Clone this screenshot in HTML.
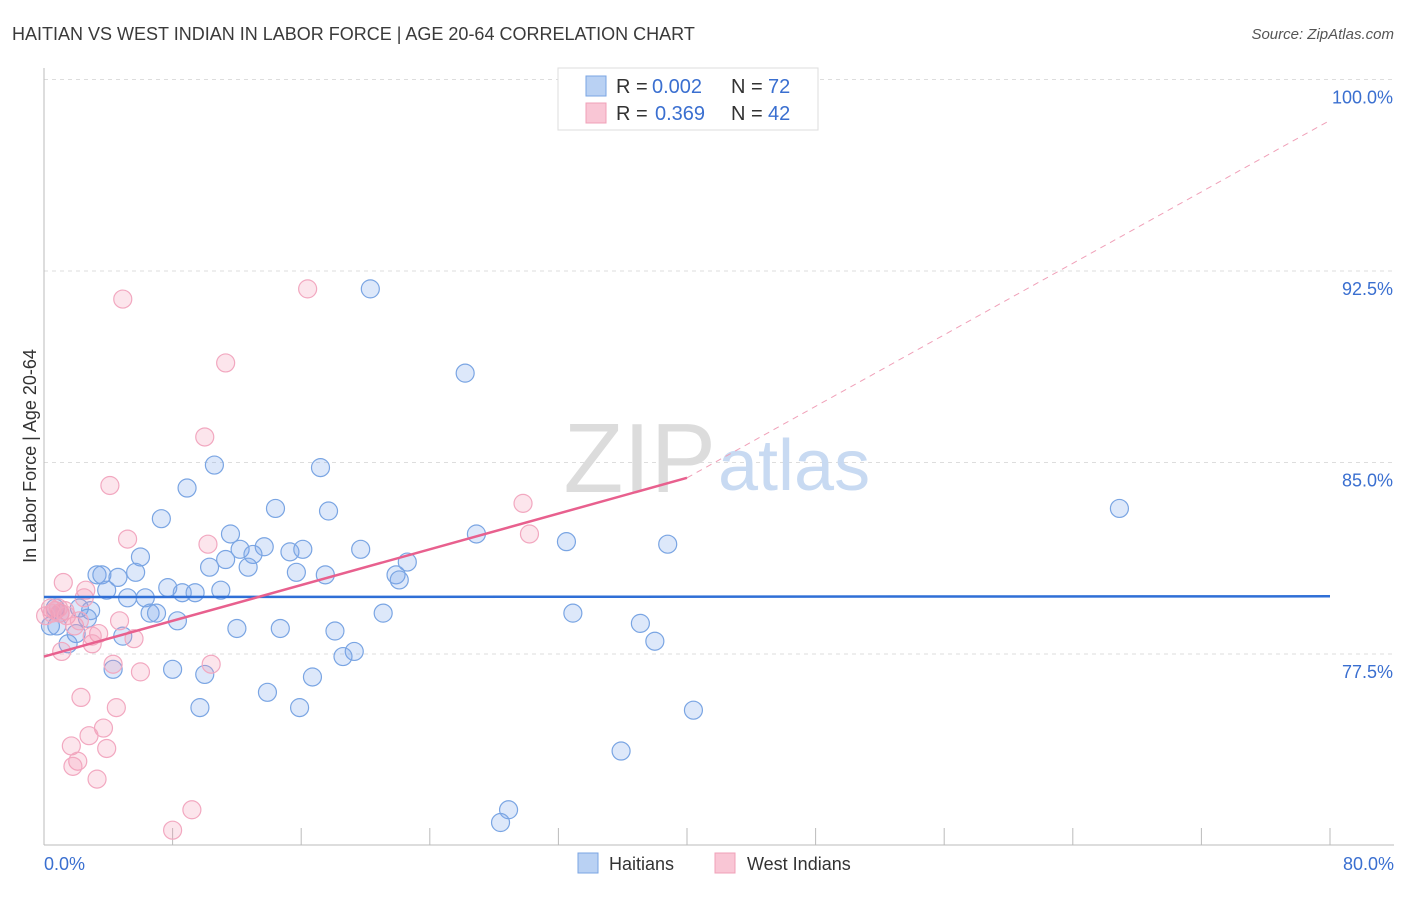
<!DOCTYPE html>
<html><head><meta charset="utf-8"><style>
body{margin:0;background:#fff;font-family:"Liberation Sans",sans-serif;}
svg text{font-family:"Liberation Sans",sans-serif;}
</style></head><body>
<svg id="chart" width="1406" height="892">
<text x="12" y="40" font-size="18" fill="#3a3a3a">HAITIAN VS WEST INDIAN IN LABOR FORCE | AGE 20-64 CORRELATION CHART</text>
<text x="1394" y="39" font-size="15" fill="#555" font-style="italic" text-anchor="end">Source: ZipAtlas.com</text>
<g id="grid"></g>
<text x="716" y="492" font-size="98" fill="#dcdcdc" font-family="Liberation Serif" text-anchor="end">ZIP</text>
<text x="718" y="490" font-size="72" fill="#c8daf2">atlas</text>
<g id="marks"></g>
<text x="36" y="456" font-size="18" fill="#333" transform="rotate(-90 36 456)" text-anchor="middle">In Labor Force | Age 20-64</text>
<text x="44" y="870" font-size="18" fill="#3a6fd0">0.0%</text>
<text x="1394" y="870" font-size="18" fill="#3a6fd0" text-anchor="end">80.0%</text>
<g>
<rect x="558" y="68" width="260" height="62" fill="#fff" stroke="#ddd"/>
<rect x="586" y="76" width="20" height="20" fill="#b9d1f3" stroke="#7aa5e3"/>
<rect x="586" y="103" width="20" height="20" fill="#f9c6d5" stroke="#f0a0b8"/>
<text x="616" y="93" font-size="20" fill="#333">R =</text>
<text x="652" y="93" font-size="20" fill="#3a6fd0">0.002</text>
<text x="731" y="93" font-size="20" fill="#333">N =</text>
<text x="768" y="93" font-size="20" fill="#3a6fd0">72</text>
<text x="616" y="120" font-size="20" fill="#333">R =</text>
<text x="655" y="120" font-size="20" fill="#3a6fd0">0.369</text>
<text x="731" y="120" font-size="20" fill="#333">N =</text>
<text x="768" y="120" font-size="20" fill="#3a6fd0">42</text>
</g>
<g>
<rect x="578" y="853" width="20" height="20" fill="#b9d1f3" stroke="#7aa5e3"/>
<text x="609" y="870" font-size="18" fill="#333">Haitians</text>
<rect x="715" y="853" width="20" height="20" fill="#f9c6d5" stroke="#f0a0b8"/>
<text x="747" y="870" font-size="18" fill="#333">West Indians</text>
</g>
</svg>
<script>
const yTicks=[100,92.5,85,77.5];
const yTickLabels=["100.0%","92.5%","85.0%","77.5%"];
const xTicks=[0,8,16,24,32,40,48,56,64,72,80];
const haitianX=[20.3,26.2,66.9,10.6,17.2,8.9,7.3,14.4,17.7,11.6,26.9,32.5,38.8,13.7,12.2,15.3,16.1,19.7,6.0,13.0,11.3,22.6,10.3,12.7,3.3,3.6,5.7,4.6,15.7,17.5,21.9,22.1,7.7,3.9,11.0,5.2,6.3,8.6,9.4,2.2,2.9,6.6,7.0,21.1,32.9,2.7,8.3,37.1,0.4,0.8,12.0,14.7,18.1,4.9,2.0,1.5,38.0,19.3,18.6,4.3,8.0,10.0,16.7,13.9,9.7,15.9,40.4,35.9,28.9,28.4,0.7,1.0];
const haitianY=[91.8,88.5,83.2,84.9,84.8,84.0,82.8,83.2,83.1,82.2,82.2,81.9,81.8,81.7,81.6,81.5,81.6,81.6,81.3,81.4,81.2,81.1,80.9,80.9,80.6,80.6,80.7,80.5,80.7,80.6,80.6,80.4,80.1,80.0,80.0,79.7,79.7,79.9,79.9,79.3,79.2,79.1,79.1,79.1,79.1,78.9,78.8,78.7,78.6,78.6,78.5,78.5,78.4,78.2,78.3,77.9,78.0,77.6,77.4,76.9,76.9,76.7,76.6,76.0,75.4,75.4,75.3,73.7,71.4,70.9,79.3,79.1];
const wiX=[4.9,16.4,11.3,10.0,4.1,29.8,30.2,5.2,10.2,1.2,2.6,2.5,0.4,0.7,1.0,1.3,4.7,1.9,3.4,3.0,5.6,3.0,1.1,4.3,10.4,6.0,2.3,4.5,3.7,2.8,1.7,3.9,2.1,1.8,3.3,9.2,8.0,0.9,0.5,1.4,2.2,0.1];
const wiY=[91.4,91.8,88.9,86.0,84.1,83.4,82.2,82.0,81.8,80.3,80.0,79.7,79.3,79.2,79.1,79.2,78.8,78.6,78.3,78.2,78.1,77.9,77.6,77.1,77.1,76.8,75.8,75.4,74.6,74.3,73.9,73.8,73.3,73.1,72.6,71.4,70.6,79.3,79.1,79.0,78.8,79.0];
const blueLine=[79.73,79.76];
const pinkLine=[77.4,84.4,98.4];
const pinkLineX=[0,40,80];

const NS="http://www.w3.org/2000/svg";
const xs=v=>44+v/80*1286;
const ys=v=>79.5+(100-v)/7.5*191.5;
const grid=document.getElementById('grid'),marks=document.getElementById('marks');
function mk(tag,attrs,parent){const e=document.createElementNS(NS,tag);for(const k in attrs)e.setAttribute(k,attrs[k]);parent.appendChild(e);return e;}
yTicks.forEach((t,i)=>{
 const l=mk('line',{x1:44,x2:1394,y1:ys(t),y2:ys(t),stroke:'#ddd','stroke-dasharray':'4,4'},grid);
 
 
 const tx=mk('text',{x:1393,y:ys(t)+24,'font-size':18,fill:'#3a6fd0','text-anchor':'end'},grid);
 tx.textContent=yTickLabels[i];
 
 
});
const ax=mk('line',{x1:44,x2:44,y1:68,y2:845,stroke:'#bbb'},grid);


const bx=mk('line',{x1:44,x2:1394,y1:845,y2:845,stroke:'#bbb'},grid);


xTicks.forEach(t=>{
 const l=mk('line',{x1:xs(t),x2:xs(t),y1:828,y2:845,stroke:'#bbb'},grid);
 
 
});
haitianX.forEach((v,i)=>{
 const c=mk('circle',{cx:xs(v),cy:ys(haitianY[i]),r:9,fill:'rgba(120,165,235,0.25)',stroke:'#7aa5e3','stroke-width':1.2},marks);
 
 
});
wiX.forEach((v,i)=>{
 const c=mk('circle',{cx:xs(v),cy:ys(wiY[i]),r:9,fill:'rgba(245,150,180,0.25)',stroke:'#f2a8c0','stroke-width':1.2},marks);
 
 
});
const bl=mk('line',{x1:xs(0),x2:xs(80),y1:ys(blueLine[0]),y2:ys(blueLine[1]),stroke:'#2f6fd6','stroke-width':2.5},marks);


const pl=mk('line',{x1:xs(pinkLineX[0]),x2:xs(pinkLineX[1]),y1:ys(pinkLine[0]),y2:ys(pinkLine[1]),stroke:'#e8608e','stroke-width':2.5},marks);


const pd=mk('line',{x1:xs(pinkLineX[1]),x2:xs(pinkLineX[2]),y1:ys(pinkLine[1]),y2:ys(pinkLine[2]),stroke:'#f0a0b8','stroke-width':1,'stroke-dasharray':'6,5'},marks);


</script>
</body></html>
